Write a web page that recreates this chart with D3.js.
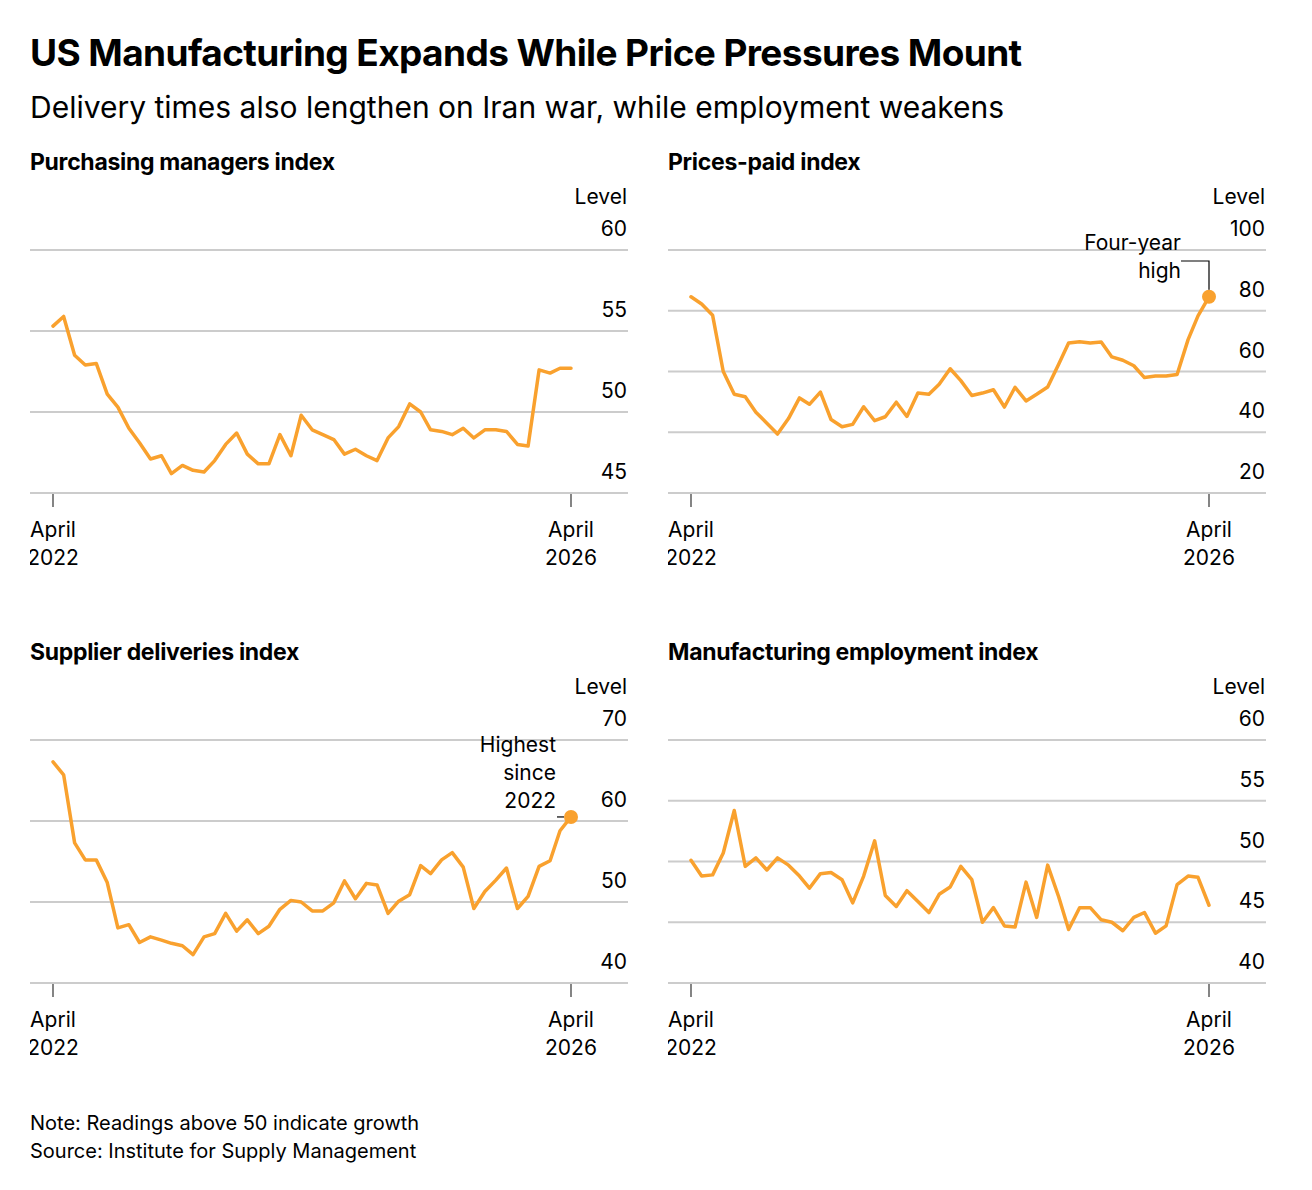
<!DOCTYPE html>
<html>
<head>
<meta charset="utf-8">
<script src="https://cdn.jsdelivr.net/npm/d3@7"></script>
<style>
  body { margin: 0; background: #fff; font-family: Inter, "Liberation Sans", Arial, sans-serif; }
</style>
</head>
<body>
<svg id="chart" width="1312" height="1190"></svg>
<script>
// monthly readings, April 2022 .. April 2026
const pmi = [55.3,55.9,53.5,52.9,53.0,51.1,50.3,49.0,48.1,47.1,47.3,46.2,46.7,46.4,46.3,47.0,48.0,48.7,47.4,46.8,46.8,48.6,47.3,49.8,48.9,48.6,48.3,47.4,47.7,47.3,47.0,48.4,49.1,50.5,50.0,48.9,48.8,48.6,49.0,48.4,48.9,48.9,48.8,48.0,47.9,52.6,52.4,52.7,52.7];
const prices = [84.6,82.2,78.5,60.0,52.5,51.7,46.6,43.0,39.4,44.5,51.3,49.2,53.2,44.2,41.8,42.6,48.4,43.8,45.1,49.9,45.2,52.9,52.5,55.8,60.9,57.0,52.1,52.9,54.0,48.3,54.8,50.3,52.5,54.9,62.4,69.4,69.8,69.4,69.7,64.8,63.7,61.9,58.0,58.5,58.5,59.0,70.5,78.3,84.6];
const deliveries = [67.3,65.7,57.3,55.2,55.2,52.4,46.8,47.2,45.0,45.7,45.3,44.9,44.6,43.5,45.7,46.1,48.6,46.4,47.8,46.1,47.0,49.1,50.2,50.0,48.9,48.9,49.9,52.6,50.4,52.3,52.1,48.6,50.1,50.9,54.5,53.5,55.2,56.1,54.3,49.2,51.3,52.7,54.2,49.2,50.7,54.4,55.1,58.8,60.5];
const employment = [50.1,48.8,48.9,50.7,54.2,49.6,50.3,49.3,50.3,49.7,48.8,47.8,49.0,49.1,48.5,46.6,48.8,51.7,47.2,46.3,47.6,46.7,45.8,47.3,47.9,49.6,48.5,45.0,46.2,44.7,44.6,48.3,45.4,49.7,47.1,44.4,46.2,46.2,45.2,45.0,44.3,45.4,45.8,44.1,44.7,48.1,48.8,48.7,46.4];
const months = d3.range(49).map(i => new Date(2022, 3 + i, 1));
const xTicks = [new Date(2022, 3, 1), new Date(2026, 3, 1)];

const panels = [
  { title: "Purchasing managers index", data: pmi, ticks: [45,50,55,60], col: 0, row: 0 },
  { title: "Prices-paid index", data: prices, ticks: [20,40,60,80,100], col: 1, row: 0,
    note: ["Four-year", "high"], noteType: "elbow" },
  { title: "Supplier deliveries index", data: deliveries, ticks: [40,50,60,70], col: 0, row: 1,
    note: ["Highest", "since", "2022"], noteType: "dash" },
  { title: "Manufacturing employment index", data: employment, ticks: [40,45,50,55,60], col: 1, row: 1 }
];

const color = "#f9a12e";
const svg = d3.select("#chart");

svg.append("text").attr("x", 30).attr("y", 66)
  .style("font-size", "37px").style("font-weight", "bold").style("letter-spacing", "-0.6px")
  .text("US Manufacturing Expands While Price Pressures Mount");
svg.append("text").attr("x", 30).attr("y", 118)
  .style("font-size", "30px")
  .text("Delivery times also lengthen on Iran war, while employment weakens");

panels.forEach((p, k) => {
  const left = 30 + p.col * 638;
  const top = p.row * 490;
  const g = svg.append("g");
  const clipId = "clip" + k;
  svg.append("clipPath").attr("id", clipId).append("rect")
    .attr("x", left).attr("y", top + 130).attr("width", 610).attr("height", 460);
  g.attr("clip-path", `url(#${clipId})`);

  g.append("text").attr("x", left).attr("y", top + 170)
    .style("font-size", "23px").style("font-weight", "bold").style("letter-spacing", "-0.3px").text(p.title);

  const x = d3.scaleTime().domain(xTicks).range([left + 23, left + 541]);
  const y = d3.scaleLinear().domain(d3.extent(p.ticks)).range([top + 493, top + 250]);
  const gridRight = left + 598;

  g.append("g").selectAll("line").data(p.ticks).join("line")
    .attr("x1", left).attr("x2", gridRight)
    .attr("y1", d => y(d)).attr("y2", d => y(d))
    .attr("stroke", "#cccccc").attr("stroke-width", 2);

  g.append("g").selectAll("text").data(p.ticks).join("text")
    .attr("x", gridRight - 1).attr("y", d => y(d) - 14)
    .attr("text-anchor", "end").style("font-size", "21px").text(d => d);
  g.append("text").attr("x", gridRight - 1).attr("y", top + 204)
    .attr("text-anchor", "end").style("font-size", "21px").text("Level");

  // x axis
  g.append("g").selectAll("line").data(xTicks).join("line")
    .attr("x1", d => x(d)).attr("x2", d => x(d))
    .attr("y1", top + 494).attr("y2", top + 507)
    .attr("stroke", "#333").attr("stroke-width", 1.2);
  const xl = g.append("g").selectAll("text").data(xTicks).join("text")
    .attr("x", d => x(d)).attr("text-anchor", "middle").style("font-size", "21px");
  xl.append("tspan").attr("x", d => x(d)).attr("y", top + 537).text("April");
  xl.append("tspan").attr("x", d => x(d)).attr("y", top + 565).text(d => d.getFullYear());

  const line = d3.line().x((d, i) => x(months[i])).y(d => y(d));
  g.append("path").datum(p.data).attr("d", line)
    .attr("fill", "none").attr("stroke", color).attr("stroke-width", 3.5)
    .attr("stroke-linejoin", "round").attr("stroke-linecap", "round");

  if (p.note) {
    const last = p.data.length - 1;
    const lx = x(months[last]), ly = y(p.data[last]);
    g.append("circle").attr("cx", lx).attr("cy", ly).attr("r", 7).attr("fill", color);
    if (p.noteType === "elbow") {
      g.append("path").attr("d", `M${lx - 28},${top + 261}H${lx}V${ly - 7}`)
        .attr("fill", "none").attr("stroke", "#000").attr("stroke-width", 1.2);
      g.selectAll(".n").data(p.note).join("text")
        .attr("x", lx - 28).attr("y", (d, i) => top + 250 + i * 28)
        .attr("text-anchor", "end").style("font-size", "21px").text(d => d);
    } else {
      g.append("line").attr("x1", lx - 14).attr("x2", lx - 7).attr("y1", ly).attr("y2", ly)
        .attr("stroke", "#000").attr("stroke-width", 1.2);
      g.selectAll(".n").data(p.note).join("text")
        .attr("x", lx - 15).attr("y", (d, i) => ly - 65 + i * 28)
        .attr("text-anchor", "end").style("font-size", "21px").text(d => d);
    }
  }
});

svg.append("text").attr("x", 30).attr("y", 1130).style("font-size", "20px")
  .text("Note: Readings above 50 indicate growth");
svg.append("text").attr("x", 30).attr("y", 1158).style("font-size", "20px")
  .text("Source: Institute for Supply Management");
</script>
</body>
</html>
